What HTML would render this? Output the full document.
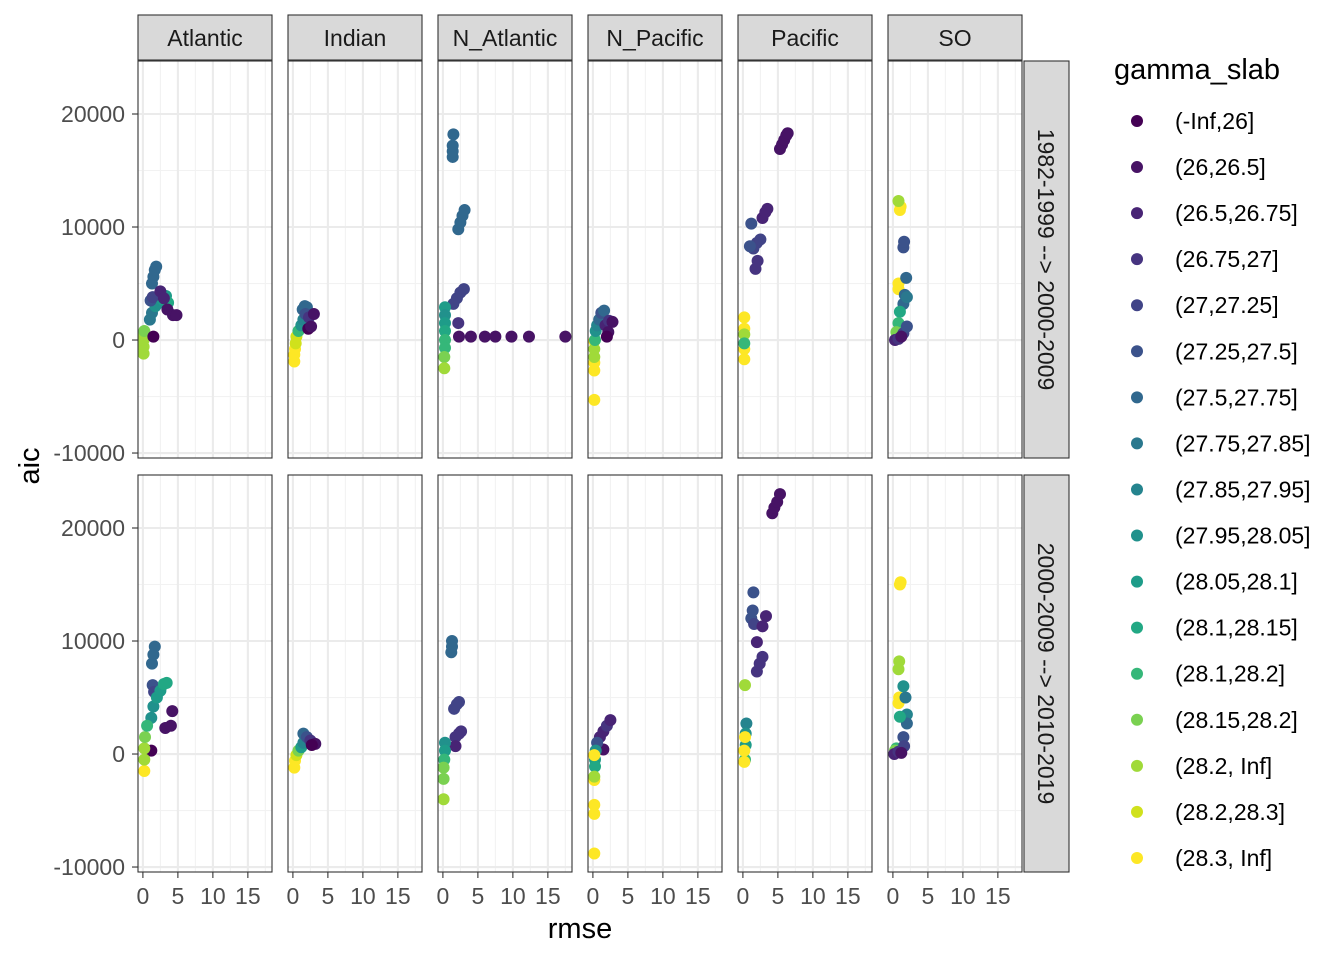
<!DOCTYPE html>
<html><head><meta charset="utf-8"><style>
html,body{margin:0;padding:0;background:#fff;}
svg{display:block;font-family:"Liberation Sans",sans-serif;}
</style></head><body>
<svg id="chart" width="1344" height="960" xmlns="http://www.w3.org/2000/svg"></svg>
<script>
// legend categories
const categories = ["(-Inf,26]","(26,26.5]","(26.5,26.75]","(26.75,27]","(27,27.25]","(27.25,27.5]","(27.5,27.75]","(27.75,27.85]","(27.85,27.95]","(27.95,28.05]","(28.05,28.1]","(28.1,28.15]","(28.1,28.2]","(28.15,28.2]","(28.2, Inf]","(28.2,28.3]","(28.3, Inf]"];
const colors = ["#440154","#471365","#482475","#463480","#414487","#3B528B","#31688E","#2A788E","#25848E","#21918C","#1E9C89","#22A884","#35B779","#7AD151","#A0DA39","#D0E11C","#FDE725"];
const basins = ["Atlantic","Indian","N_Atlantic","N_Pacific","Pacific","SO"];
const periods = ["1982-1999 --> 2000-2009","2000-2009 --> 2010-2019"];
const xTicks = [0,5,10,15];
const yTicks = [-10000,0,10000,20000];
// points: [category index, rmse, aic]
const atl1 = [[14,0.1,-1200],[14,0.1,-600],[14,0.1,0],[14,0.15,500],[13,0.2,800],[0,1.5,300],[7,1,1800],[7,1.3,2400],[9,1.8,3000],[9,2.3,3300],[10,2.8,3600],[10,3.3,3900],[11,3.6,3300],[6,1.3,5000],[6,1.5,5600],[6,1.7,6200],[6,1.9,6500],[5,1.1,3500],[4,1.4,3800],[2,2.5,4300],[2,3,3700],[1,3.5,2700],[1,4.3,2200],[1,4.8,2200]];
const ind1 = [[16,0.2,-1900],[16,0.2,-1300],[16,0.3,-800],[15,0.4,-300],[15,0.5,300],[12,0.8,800],[9,1.2,1300],[8,1.5,1800],[6,1.4,2700],[6,1.7,3000],[6,2,2900],[5,1.8,2300],[3,2.3,2000],[1,3,2300],[0,2.2,1000],[1,2.6,1200]];
const natl1 = [[6,1.4,16200],[6,1.4,16700],[6,1.4,17200],[6,1.5,18200],[6,2.2,9800],[6,2.5,10400],[6,2.8,11000],[6,3.1,11500],[4,1.5,3200],[4,2,3700],[4,2.5,4200],[4,3,4500],[3,2.2,1500],[10,0.3,2900],[9,0.3,2200],[10,0.3,1500],[11,0.3,800],[12,0.3,0],[12,0.3,-700],[13,0.2,-1500],[14,0.2,-2500],[1,2.3,300],[1,4,300],[1,6,300],[1,7.5,300],[1,9.8,300],[1,12.3,300],[1,17.5,300]];
const npac1 = [[16,0.2,-5300],[16,0.2,-2700],[16,0.2,-2000],[16,0.2,-100],[14,0.2,-1500],[14,0.2,-800],[12,0.3,0],[9,0.4,800],[8,0.6,1300],[6,0.9,1800],[5,1.2,2400],[6,1.6,2600],[2,1.8,1300],[3,2.3,1700],[1,2.8,1600],[1,2.2,700],[0,2,300]];
const pac1 = [[1,5.3,16900],[1,5.6,17300],[1,5.9,17700],[1,6.2,18100],[1,6.4,18300],[2,2.8,10800],[2,3.2,11300],[2,3.5,11600],[3,1.8,6300],[3,2.1,7000],[4,1.5,8100],[4,2,8600],[4,2.5,8900],[5,1,8300],[5,1.2,10300],[16,0.2,-1700],[16,0.2,-800],[16,0.2,1000],[16,0.2,2000],[14,0.2,500],[12,0.2,-300]];
const so1 = [[16,1,11500],[16,1.1,11800],[14,0.8,12300],[16,0.8,4500],[16,0.8,5000],[5,1.5,8200],[5,1.6,8700],[6,1.5,3200],[6,1.7,4000],[6,1.9,5500],[7,2,3800],[11,1,2500],[12,0.8,1500],[13,0.5,700],[2,0.3,0],[3,0.8,100],[4,1.5,600],[5,2,1200],[1,1.2,300]];
const atl2 = [[6,1.3,8000],[6,1.5,8800],[6,1.7,9500],[5,1.4,6100],[4,1.6,5500],[9,1.2,3200],[9,1.5,4200],[10,2,5000],[10,2.5,5600],[11,3,6200],[11,3.4,6300],[1,3.2,2300],[1,4,2500],[1,4.2,3800],[0,1.2,300],[16,0.2,-1500],[14,0.2,-500],[14,0.2,500],[13,0.3,1500],[12,0.6,2500]];
const ind2 = [[16,0.2,-1200],[16,0.3,-600],[15,0.5,-100],[13,0.8,300],[10,1.2,600],[8,1.5,1000],[6,1.5,1800],[5,2,1500],[3,2.5,1200],[1,3.2,900],[0,2.7,800]];
const natl2 = [[6,1.2,9000],[6,1.3,9500],[6,1.3,10000],[4,1.6,4000],[4,2,4400],[4,2.3,4600],[3,1.8,1500],[3,2.3,1800],[3,2.6,2000],[2,1.8,700],[9,0.3,1000],[10,0.3,300],[12,0.2,-500],[13,0.1,-1200],[13,0.1,-2200],[14,0.1,-4000]];
const npac2 = [[2,1,1500],[2,1.5,2000],[3,2,2500],[2,2.5,3000],[1,1.5,400],[5,0.6,1000],[9,0.4,300],[10,0.3,-500],[11,0.3,-1100],[16,0.2,-8800],[16,0.2,-5300],[16,0.2,-4500],[16,0.2,-2300],[16,0.2,-100],[14,0.2,-2000]];
const pac2 = [[1,4.2,21300],[1,4.5,21800],[1,4.9,22300],[1,5.3,23000],[5,1.5,14300],[5,1.2,12000],[5,1.4,12700],[4,1.6,11500],[2,3.3,12200],[2,2.8,11300],[2,2,9900],[3,2,7300],[3,2.4,8000],[3,2.8,8600],[14,0.3,6100],[8,0.5,2700],[9,0.4,1800],[10,0.4,800],[12,0.3,-500],[16,0.2,-700],[16,0.2,300],[16,0.3,1500]];
const so2 = [[16,1,15000],[16,1.1,15200],[14,0.8,7500],[14,0.9,8200],[16,0.8,4500],[16,0.9,5000],[9,1.5,6000],[7,1.8,5000],[8,2,3500],[6,2,2700],[5,1.5,1500],[11,1,3300],[12,0.5,500],[13,0.3,300],[2,0.2,0],[3,0.8,200],[4,1.6,700],[1,1.2,100]];
const panelData = [[atl1,ind1,natl1,npac1,pac1,so1],[atl2,ind2,natl2,npac2,pac2,so2]];

const NS="http://www.w3.org/2000/svg";
const svg=document.getElementById('chart');
function mk(tag,attrs,parent,text){const e=document.createElementNS(NS,tag);for(const k in attrs)e.setAttribute(k,attrs[k]);if(text!==undefined)e.textContent=text;(parent||svg).appendChild(e);return e;}

const panelLeft=[138,288,438,588,738,888], panelW=134;
const rowTop=[61,475], panelH=397;
const xMin=-0.7, xMax=18.45;
const yMin=-10440, yMax=24690;
function xs(c,v){return panelLeft[c]+(v-xMin)/(xMax-xMin)*panelW;}
function ys(r,v){return rowTop[r]+(yMax-v)/(yMax-yMin)*panelH;}

for(let r=0;r<2;r++){
  for(let c=0;c<6;c++){
    const g=mk('g',{});
    
    
    mk('rect',{x:panelLeft[c],y:rowTop[r],width:panelW,height:panelH,fill:'#fff'},g);
    [2.5,7.5,12.5,17.5].forEach(v=>mk('line',{x1:xs(c,v),x2:xs(c,v),y1:rowTop[r],y2:rowTop[r]+panelH,stroke:'#F2F2F2','stroke-width':1.1},g));
    [-5000,5000,15000].forEach(v=>mk('line',{x1:panelLeft[c],x2:panelLeft[c]+panelW,y1:ys(r,v),y2:ys(r,v),stroke:'#F2F2F2','stroke-width':1.1},g));
    xTicks.forEach(v=>mk('line',{x1:xs(c,v),x2:xs(c,v),y1:rowTop[r],y2:rowTop[r]+panelH,stroke:'#EBEBEB','stroke-width':2.1},g));
    yTicks.forEach(v=>mk('line',{x1:panelLeft[c],x2:panelLeft[c]+panelW,y1:ys(r,v),y2:ys(r,v),stroke:'#EBEBEB','stroke-width':2.1},g));
    panelData[r][c].forEach(p=>{
      const pt=mk('circle',{cx:xs(c,p[1]),cy:ys(r,p[2]),r:6,fill:colors[p[0]]},g);
      
      
    });
    mk('rect',{x:panelLeft[c],y:rowTop[r],width:panelW,height:panelH,fill:'none',stroke:'#333','stroke-width':1.1},g);
  }
}
basins.forEach((b,c)=>{
  const s=mk('g',{});
  
  
  mk('rect',{x:panelLeft[c],y:15,width:panelW,height:45,fill:'#D9D9D9',stroke:'#333','stroke-width':1.1},s);
  mk('text',{x:panelLeft[c]+panelW/2,y:46,'text-anchor':'middle','font-size':23,fill:'#1A1A1A'},s,b);
});
periods.forEach((p,r)=>{
  const s=mk('g',{});
  
  
  mk('rect',{x:1024,y:rowTop[r],width:45,height:panelH,fill:'#D9D9D9',stroke:'#333','stroke-width':1.1},s);
  const cy=rowTop[r]+panelH/2;
  mk('text',{x:1038,y:cy,'text-anchor':'middle','font-size':23,fill:'#1A1A1A',transform:'rotate(90 1038 '+cy+')'},s,p);
});
for(let r=0;r<2;r++){
  yTicks.forEach(v=>{
    mk('line',{x1:132,x2:138,y1:ys(r,v),y2:ys(r,v),stroke:'#333','stroke-width':1.1});
    const t=mk('text',{x:125,y:ys(r,v)+8,'text-anchor':'end','font-size':23,fill:'#4D4D4D'},svg,String(v));
    
    
  });
}
for(let c=0;c<6;c++){
  xTicks.forEach(v=>{
    mk('line',{x1:xs(c,v),x2:xs(c,v),y1:872,y2:878,stroke:'#333','stroke-width':1.1});
    const t=mk('text',{x:xs(c,v),y:904,'text-anchor':'middle','font-size':23,fill:'#4D4D4D'},svg,String(v));
    
    
  });
}
const xt=mk('text',{x:580,y:938,'text-anchor':'middle','font-size':29,fill:'#000'},svg,'rmse');


const yt=mk('text',{x:39,y:466,'text-anchor':'middle','font-size':29,fill:'#000',transform:'rotate(-90 39 466)'},svg,'aic');


const lg=mk('g',{});


mk('text',{x:1114,y:79,'font-size':29,fill:'#000'},lg,'gamma_slab');
categories.forEach((cat,i)=>{
  const y=121+i*46.06;
  const e=mk('g',{},lg);
  
  
  mk('circle',{cx:1137,cy:y,r:6,fill:colors[i]},e);
  mk('text',{x:1175,y:y+8,'font-size':23,fill:'#000'},e,cat);
});
</script>
</body></html>
